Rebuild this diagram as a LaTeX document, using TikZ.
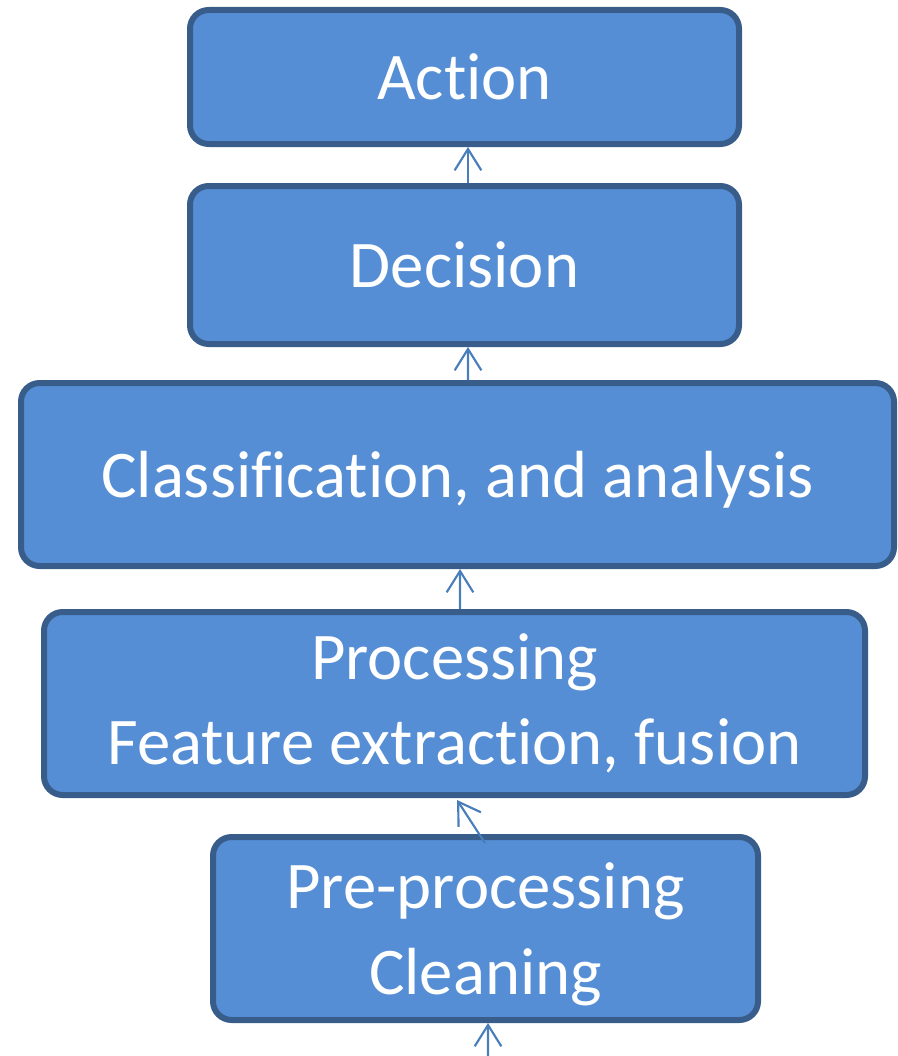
\documentclass[tikz,border=0pt]{standalone}
\usepackage{fontspec}
\setmainfont[Ligatures={NoCommon}]{Carlito}
\usetikzlibrary{arrows.meta}
\definecolor{boxfill}{HTML}{558ED5}
\definecolor{boxline}{HTML}{385D8A}
\definecolor{arrline}{HTML}{4A7EBB}
\begin{document}
\begin{tikzpicture}[x=0.75pt,y=-0.75pt,
  stage/.style 2 args={draw=boxline, fill=boxfill, line width=4.5pt,
    rounded corners=14pt, inner sep=0pt, align=center, text=white,
    font=\fontsize{50}{64}\selectfont,
    minimum width=#1*0.75pt, minimum height=#2*0.75pt},
  arr/.style={draw=arrline, line width=1.6pt,
    -{Straight Barb[length=16pt,width=20pt,line width=1.6pt]}}]
\useasboundingbox (0,0) rectangle (898,1056);

% processing stages, bottom to top
\node[stage={545}{183}, text depth=0pt] (pre) at (485.5,928.5) {Pre-processing\\Cleaning};
\node[stage={821}{183}] (proc) at (454.5,703.5) {Processing\\Feature extraction, fusion};
\node[stage={873}{183}, text depth=0pt] (cls) at (457.5,474.5) {Classification, and analysis};
\node[stage={549}{158}] (dec)  at (464.5,265)   {Decision};
\node[stage={549}{134}] (act)  at (464.5,77)    {Action};

% incoming data at the bottom edge
\coordinate (in) at (488,1056);

% upward flow between stages
\draw[arr] (in) -- ([xshift=1.9pt]pre.south);
\draw[arr] ([xshift=-0.4pt,yshift=-6.75pt]pre.north) -- ([xshift=1.9pt,yshift=-1.5pt]proc.south);
\draw[arr] ([xshift=4.1pt]proc.north) -- ([xshift=1.9pt]cls.south);
\draw[arr] ([xshift=7.9pt]cls.north) -- ([xshift=2.6pt]dec.south);
\draw[arr] ([xshift=2.6pt]dec.north) -- ([xshift=2.6pt]act.south);
\end{tikzpicture}
\end{document}
